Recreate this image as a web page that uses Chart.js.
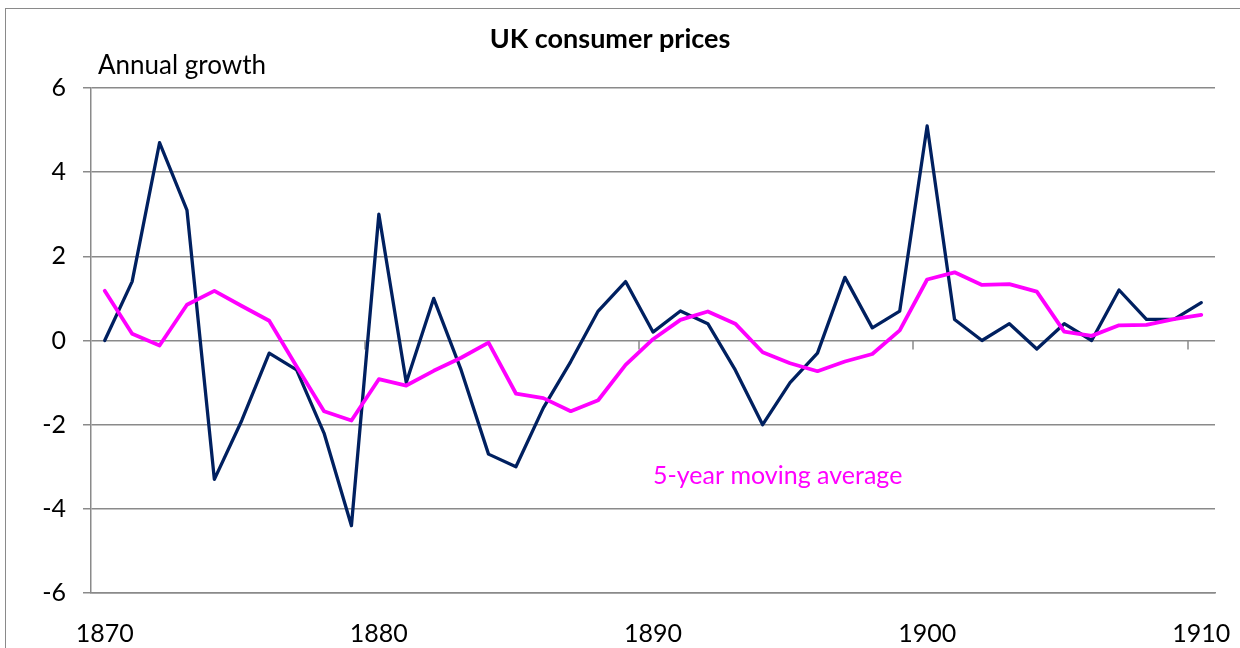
<!DOCTYPE html>
<html>
<head>
<meta charset="utf-8">
<script src="https://cdn.jsdelivr.net/npm/chart.js@4.4.0/dist/chart.umd.min.js"></script>
<style>
    html, body { margin: 0; padding: 0; background: #fff; overflow: hidden; }
    #wrap { position: relative; width: 1240px; height: 648px; overflow: hidden; }
    #frame { position: absolute; left: 5px; top: 8px; width: 1260px; height: 680px;
             border: 1.5px solid #8a8a8a; box-sizing: border-box; }
    #chart { position: absolute; left: 0; top: 0; }
</style>
</head>
<body>
<div id="wrap">
    <div id="frame"></div>
    <canvas id="chart" width="1240" height="648"></canvas>
</div>
<script>
// -------------- Data --------------
const years = [1870, 1871, 1872, 1873, 1874, 1875, 1876, 1877, 1878, 1879,
    1880, 1881, 1882, 1883, 1884, 1885, 1886, 1887, 1888, 1889,
    1890, 1891, 1892, 1893, 1894, 1895, 1896, 1897, 1898, 1899,
    1900, 1901, 1902, 1903, 1904, 1905, 1906, 1907, 1908, 1909, 1910];
// annual growth of consumer prices, %
const growth = [0, 1.4, 4.7, 3.1, -3.3, -1.9, -0.3, -0.7, -2.2, -4.4,
    3.0, -1.0, 1.0, -0.7, -2.7, -3.0, -1.6, -0.5, 0.7, 1.4,
    0.2, 0.7, 0.4, -0.7, -2.0, -1.0, -0.3, 1.5, 0.3, 0.7,
    5.1, 0.5, 0.0, 0.4, -0.2, 0.4, 0.0, 1.2, 0.5, 0.5, 0.9];
// 5-year moving average
const movingAvg = [1.18, 0.16, -0.12, 0.85, 1.18, 0.82, 0.47, -0.62, -1.68, -1.9,
    -0.92, -1.07, -0.72, -0.41, -0.05, -1.26, -1.37, -1.68, -1.42, -0.58,
    0.03, 0.49, 0.69, 0.4, -0.28, -0.54, -0.73, -0.5, -0.32, 0.24,
    1.45, 1.62, 1.32, 1.34, 1.16, 0.21, 0.11, 0.36, 0.37, 0.51, 0.61];
const xTicks = [1870, 1880, 1890, 1900, 1910];
const yTicks = [-6, -4, -2, 0, 2, 4, 6];
// small tick marks on the zero line, between categories
const zeroTicks = [1879.5, 1889.5, 1899.5, 1909.5];

const gridGrey = '#8a8a8a';
const fontFamily = 'Lato, "Noto Sans", sans-serif';

// -------------- Texts drawn on the chart --------------
const chartTexts = {
    id: 'chartTexts',
    beforeDatasetsDraw(chart) {
        const ctx = chart.ctx;
        const x = chart.scales.x;
        const y = chart.scales.y;
        ctx.save();
        ctx.strokeStyle = gridGrey;
        ctx.lineWidth = 1.5;
        const y0 = y.getPixelForValue(0);
        zeroTicks.forEach(v => {
            const px = Math.round(x.getPixelForValue(v));
            ctx.beginPath();
            ctx.moveTo(px, y0);
            ctx.lineTo(px, y0 + 9);
            ctx.stroke();
        });
        ctx.restore();
    },
    afterDraw(chart) {
        const ctx = chart.ctx;
        const x = chart.scales.x;
        const y = chart.scales.y;
        ctx.save();
        ctx.textBaseline = 'alphabetic';
        ctx.fillStyle = '#000';
        ctx.textAlign = 'center';
        ctx.font = 'bold 27px ' + fontFamily;
        ctx.fillText('UK consumer prices', 610, 48);
        ctx.textAlign = 'left';
        ctx.font = '26px ' + fontFamily;
        ctx.fillText('Annual growth', 98, 74);
        ctx.font = '25px ' + fontFamily;
        ctx.fillStyle = '#ff00ff';
        ctx.fillText('5-year moving average', x.getPixelForValue(1890), y.getPixelForValue(-3.4));
        ctx.restore();
    }
};

// -------------- Line chart --------------
const ctx = document.getElementById('chart');
const chart = new Chart(ctx, {
    type: 'line',
    data: {
        datasets: [{
            label: 'Annual growth',
            data: years.map((yr, i) => ({ x: yr, y: growth[i] })),
            borderColor: '#002060',
            borderWidth: 3.3,
            order: 2
        }, {
            label: '5-year moving average',
            data: years.map((yr, i) => ({ x: yr, y: movingAvg[i] })),
            borderColor: '#ff00ff',
            borderWidth: 3.8,
            order: 1
        }]
    },
    options: {
        responsive: false,
        animation: false,
        elements: {
            point: { radius: 0 },
            line: { tension: 0, borderJoinStyle: 'round', borderCapStyle: 'round' }
        },
        layout: {
            padding: { left: 0, right: 25, top: 88, bottom: 0 }
        },
        plugins: {
            legend: { display: false },
            title: { display: false },
            tooltip: { enabled: false }
        },
        scales: {
            x: {
                type: 'linear',
                min: 1869.5,
                max: 1910.5,
                afterBuildTicks: scale => { scale.ticks = xTicks.map(v => ({ value: v })); },
                afterFit: scale => {
                    scale.height = 55;
                    scale.paddingLeft = 0;
                    scale.paddingRight = 0;
                },
                grid: { display: false },
                border: { display: true, color: gridGrey, width: 1.5 },
                ticks: {
                    color: '#000',
                    padding: 18,
                    maxRotation: 0,
                    autoSkip: false,
                    font: { family: fontFamily, size: 25 },
                    callback: v => String(v)
                }
            },
            y: {
                min: -6,
                max: 6,
                afterBuildTicks: scale => { scale.ticks = yTicks.map(v => ({ value: v })); },
                afterFit: scale => {
                    scale.width = 91;
                    scale.paddingTop = 0;
                    scale.paddingBottom = 0;
                },
                grid: { color: gridGrey, lineWidth: 1.5, tickLength: 8 },
                border: { display: true, color: gridGrey, width: 1.5 },
                ticks: {
                    color: '#000',
                    padding: 17,
                    font: { family: fontFamily, size: 25 },
                    callback: v => String(v)
                }
            }
        }
    },
    plugins: [chartTexts]
});
</script>
</body>
</html>
